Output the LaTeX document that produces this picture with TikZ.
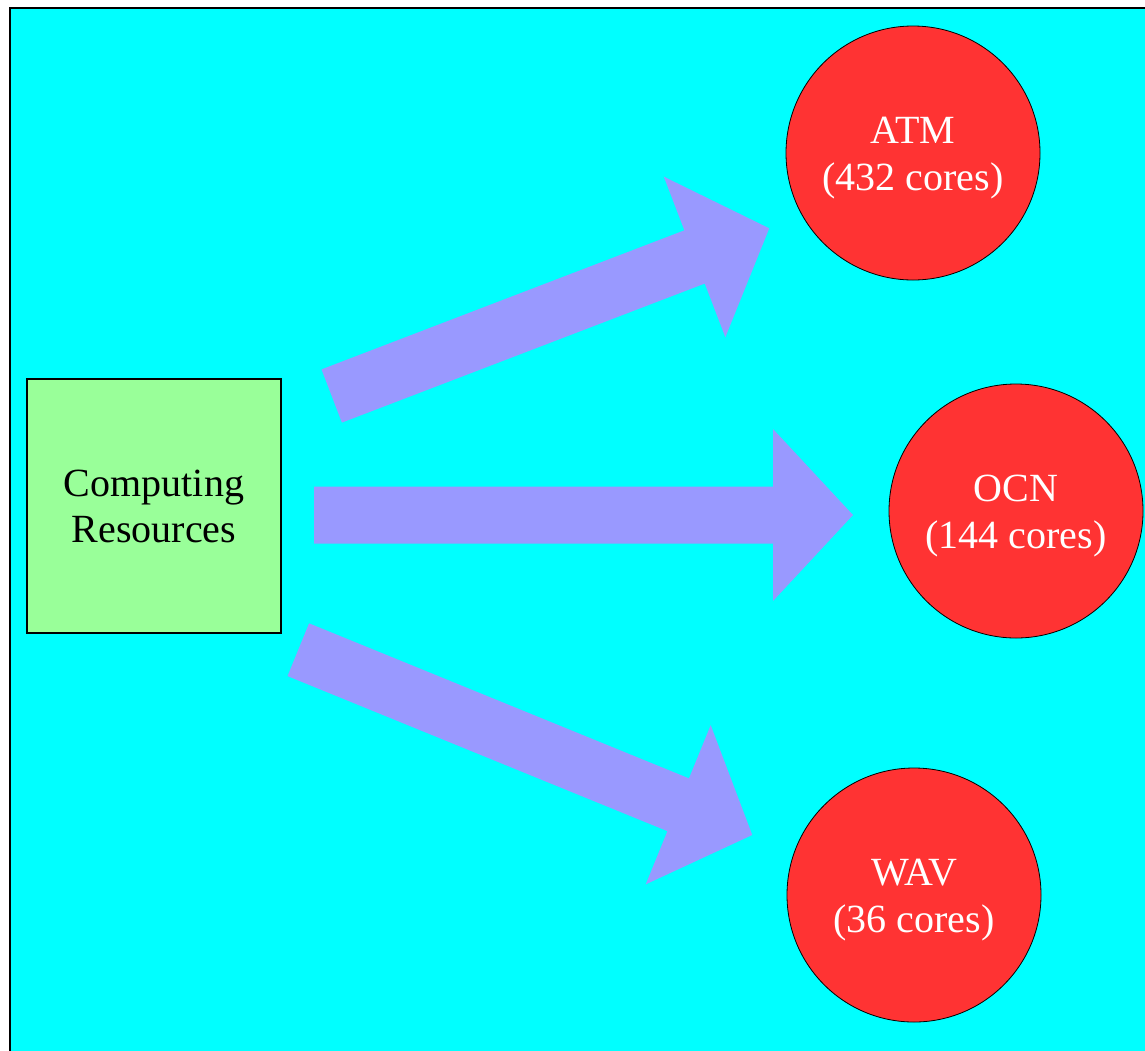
\documentclass[tikz,border=0pt]{standalone}
\usepackage{fontspec}
\setmainfont{Liberation Serif}
\usetikzlibrary{calc}

\definecolor{bgcyan}{HTML}{00FFFF}
\definecolor{boxgreen}{HTML}{99FF99}
\definecolor{arrowblue}{HTML}{9999FF}
\definecolor{compred}{HTML}{FF3333}

\tikzset{
  resource/.style={draw=black, line width=1.2pt, fill=boxgreen,
    minimum width=254pt, minimum height=254pt, inner sep=0pt,
    align=center, font=\fontsize{40}{46}\selectfont, text=black},
  component/.style={circle, draw=black, line width=0.8pt, fill=compred,
    minimum size=254pt, inner sep=0pt},
  comptext/.style={align=center, inner sep=0pt,
    font=\fontsize{40}{47}\selectfont, text=white},
  flowfill/.style={fill=arrowblue},
}

% block arrow from coordinate #1 to coordinate #2 (shaft 57pt, head 172pt x 80pt)
\newcommand\blockarrow[2]{%
  \path[flowfill] let \p1=($(#2)-(#1)$), \n1={atan2(\y1,\x1)}, \n2={veclen(\x1,\y1)} in
    [shift={(#1)}, rotate=\n1]
    (0pt,-28.5pt) -- (\n2-80pt,-28.5pt) -- (\n2-80pt,-86pt) -- (\n2,0pt)
    -- (\n2-80pt,86pt) -- (\n2-80pt,28.5pt) -- (0pt,28.5pt) -- cycle;}

\begin{document}
\begin{tikzpicture}[x=1pt, y=-1pt]
  \useasboundingbox (0,0) rectangle (1145,1050);
  \clip (0,0) rectangle (1145,1050);

  % panel
  \fill[bgcyan] (10,8) rectangle (1170,1080);
  \draw[black, line width=2pt] (10,1080) -- (10,8) -- (1170,8);

  % source and targets
  \node[resource] (res) at (154,506) {Computing\\Resources};
  \node[component] (atm) at (913,153) {};
  \node[component] (ocn) at (1016,511) {};
  \node[component] (wav) at (914,895) {};
  \node[comptext] (atmt) at ($(atm)+(0,5)$) {ATM\\(432 cores)};
  \node[comptext] (ocnt) at ($(ocn)+(0,5)$) {OCN\\(144 cores)};
  \node[comptext] (wavt) at ($(wav)+(0,5)$) {WAV\\(36 cores)};

  % arrow ends
  \coordinate (a1) at (331.7,396);
  \coordinate (b1) at (769.3,228.3);
  \coordinate (a2) at (314,515);
  \coordinate (b2) at (853,515);
  \coordinate (a3) at (298.3,649.7);
  \coordinate (b3) at (752.3,835);

  \blockarrow{a1}{b1}
  \blockarrow{a2}{b2}
  \blockarrow{a3}{b3}
\end{tikzpicture}
\end{document}
